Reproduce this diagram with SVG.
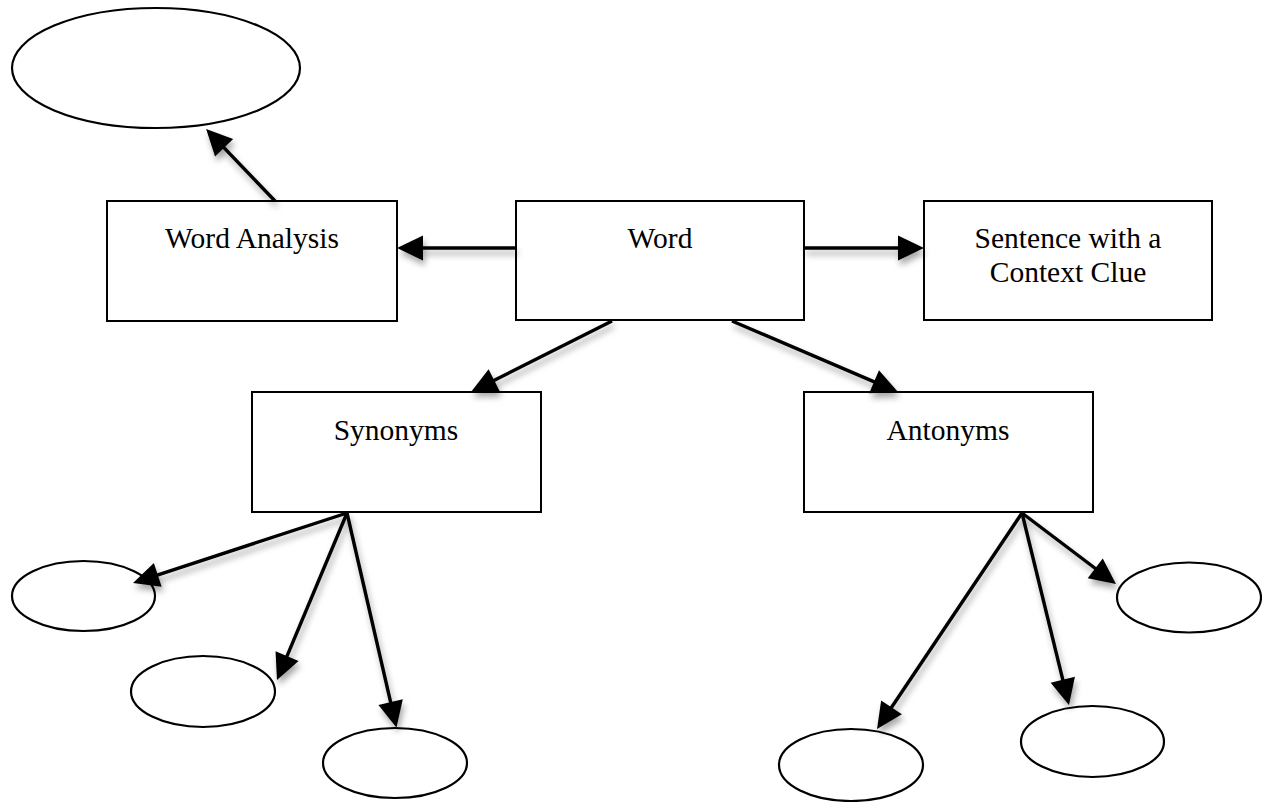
<svg xmlns="http://www.w3.org/2000/svg" width="1262" height="802" viewBox="0 0 1262 802">
  <style>
    .box { fill: #ffffff; stroke: #000000; stroke-width: 2; }
    .oval { fill: #ffffff; stroke: #000000; stroke-width: 2.2; }
    .label { font-family: "Liberation Serif", "Times New Roman", serif; font-size: 29.5px; fill: #000000; text-anchor: middle; }
    .link { fill: none; stroke: #000000; stroke-width: 3.4; marker-end: url(#arrow); }
  </style>
  <defs>
    <marker id="arrow" viewBox="0 0 26 25" markerWidth="26" markerHeight="25" refX="11" refY="12.5" markerUnits="userSpaceOnUse" orient="auto" overflow="visible">
      <path d="M0,0 L26,12.5 L0,25 Z" fill="#000000"/>
    </marker>
    <filter id="soft-shadow" x="-10%" y="-10%" width="130%" height="130%">
      <feDropShadow dx="2" dy="5" stdDeviation="3" flood-color="#000000" flood-opacity="0.35"/>
    </filter>
  </defs>

  <rect width="1262" height="802" fill="#ffffff"/>

  <!-- Central word and its three first-level boxes -->
  <g id="node-word">
    <rect class="box" x="516" y="201" width="288" height="119"/>
    <text class="label" x="660" y="248">Word</text>
  </g>
  <g id="node-word-analysis">
    <rect class="box" x="107" y="201" width="290" height="120"/>
    <text class="label" x="252" y="248">Word Analysis</text>
  </g>
  <g id="node-sentence">
    <rect class="box" x="924" y="201" width="288" height="119"/>
    <text class="label" x="1068" y="248">Sentence with a</text>
    <text class="label" x="1068" y="282">Context Clue</text>
  </g>
  <g id="node-synonyms">
    <rect class="box" x="252" y="392" width="289" height="120"/>
    <text class="label" x="396" y="440">Synonyms</text>
  </g>
  <g id="node-antonyms">
    <rect class="box" x="804" y="392" width="289" height="120"/>
    <text class="label" x="948" y="440">Antonyms</text>
  </g>

  <!-- Empty ovals to be filled in -->
  <g id="oval-analysis">
    <ellipse class="oval" cx="156" cy="68" rx="144" ry="60"/>
  </g>
  <g id="oval-syn-1">
    <ellipse class="oval" cx="83.5" cy="596" rx="71.5" ry="35"/>
  </g>
  <g id="oval-syn-2">
    <ellipse class="oval" cx="203" cy="691.5" rx="72" ry="35.5"/>
  </g>
  <g id="oval-syn-3">
    <ellipse class="oval" cx="395" cy="763" rx="72" ry="35"/>
  </g>
  <g id="oval-ant-1">
    <ellipse class="oval" cx="851" cy="765" rx="72" ry="36"/>
  </g>
  <g id="oval-ant-2">
    <ellipse class="oval" cx="1092.5" cy="741.5" rx="71.5" ry="35.5"/>
  </g>
  <g id="oval-ant-3">
    <ellipse class="oval" cx="1189" cy="597.5" rx="72" ry="35"/>
  </g>

  <!-- Arrows (drawn last so their shadows fall over the boxes) -->
  <g id="connectors" filter="url(#soft-shadow)">
    <path class="link" d="M275,201 L216.5,139.8"/>
    <path class="link" d="M516,248 L412,248"/>
    <path class="link" d="M804,248 L909,248"/>
    <path class="link" d="M612,321 L484.4,385.3"/>
    <path class="link" d="M732,321 L884.2,386.1"/>
    <path class="link" d="M347,513 L147.3,578.3"/>
    <path class="link" d="M347,513 L282.8,666.2"/>
    <path class="link" d="M347,513 L393.1,712.9"/>
    <path class="link" d="M1022,513 L1104,575"/>
    <path class="link" d="M1022,513 L1065.4,690.4"/>
    <path class="link" d="M1022,513 L885.4,716.5"/>
  </g>
</svg>
